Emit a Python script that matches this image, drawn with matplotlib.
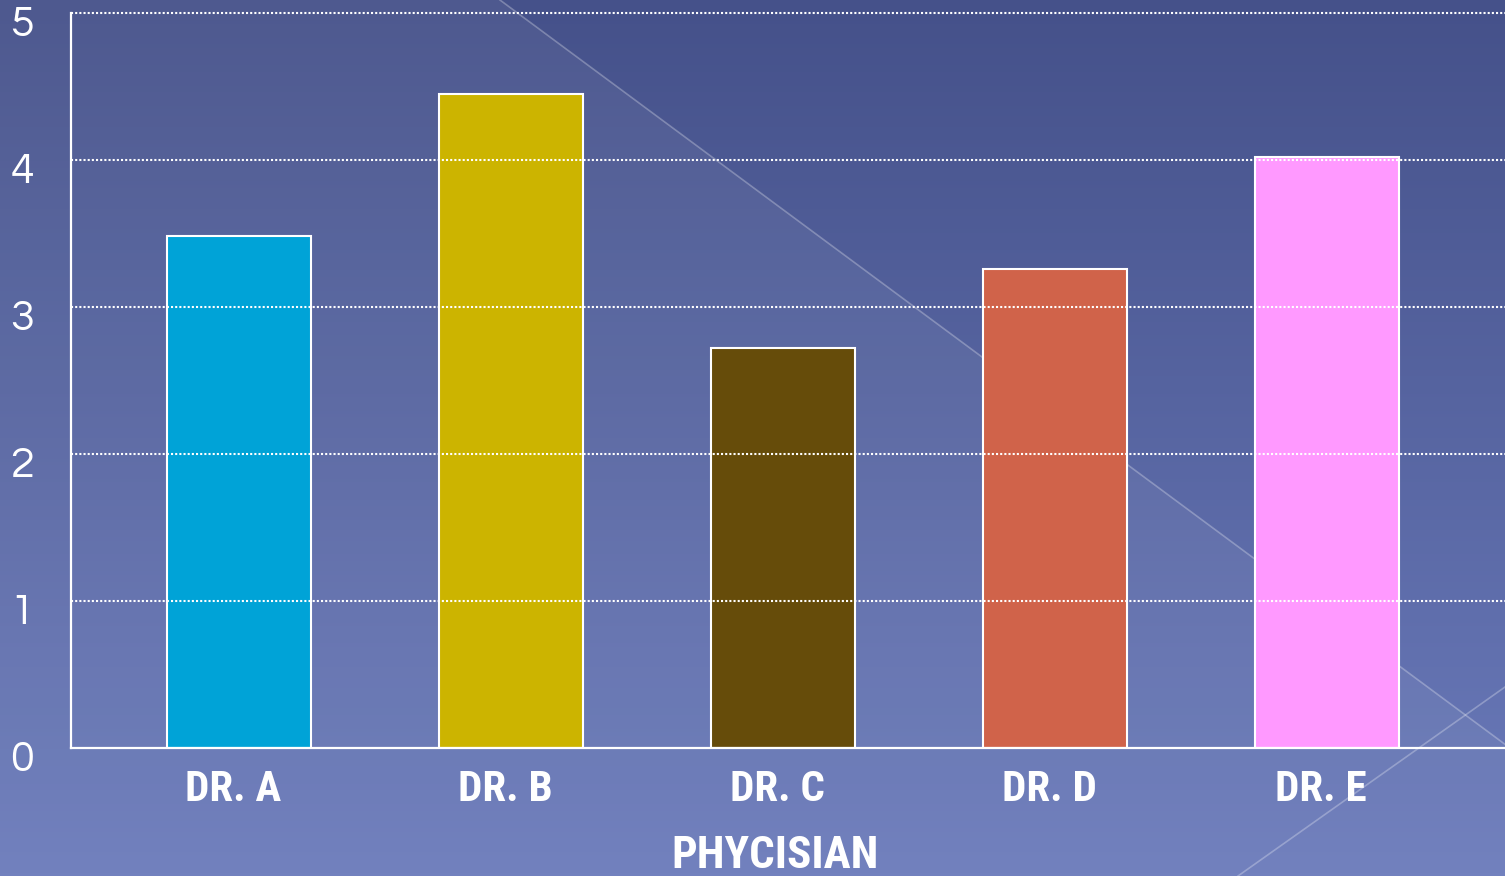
import matplotlib
matplotlib.use("Agg")
import matplotlib.pyplot as plt
import numpy as np
from matplotlib.colors import to_rgb
from matplotlib.transforms import ScaledTranslation

# ---- data ----
physicians = ["DR. A", "DR. B", "DR. C", "DR. D", "DR. E"]
scores = [3.48, 4.45, 2.72, 3.26, 4.02]
bar_colors = ["#00A3D7", "#CCB400", "#664C0A", "#D0634A", "#FF99FF"]
y_ticks = [0, 1, 2, 3, 4, 5]
x_title = "PHYCISIAN"

W, H = 1505, 876
NARROW = ["Roboto Condensed", "DejaVu Sans"]
GOTHIC = ["Questrial", "DejaVu Sans"]

fig = plt.figure(figsize=(W / 100, H / 100), dpi=100)

# background: vertical gradient + lighter wedge left of the diagonal
bg = fig.add_axes([0, 0, 1, 1])
bg.set_xlim(0, W); bg.set_ylim(H, 0); bg.axis("off")
top, bot = np.array(to_rgb("#45518a")), np.array(to_rgb("#6b7bbb"))
t = np.linspace(0, 1, 256)[:, None, None]
grad = top + (bot - top) * t
bg.imshow(np.repeat(grad, 4, axis=1), extent=[0, W, H, 0], aspect="auto", zorder=0)
bg.fill([0, 500, 1510, 1510, 0], [0, 0, 748, H, H], color="white", alpha=0.05, lw=0, zorder=1)
bg.plot([500, 1510], [0, 748], color="white", alpha=0.28, lw=1.2, zorder=2)
bg.plot([1238, 1505], [876, 687], color="white", alpha=0.28, lw=1.2, zorder=2)

ax = fig.add_axes([71 / W, 1 - 748 / H, 1 - 71 / W, (748 - 13) / H])
ax.patch.set_alpha(0)
x = np.arange(len(physicians))
ax.bar(x, scores, width=0.53, color=bar_colors, edgecolor="white", linewidth=1.5, zorder=2)
for v in y_ticks[1:]:
    ax.axhline(v, color="white", lw=1.5, ls=(0, (1, 1)), zorder=3, clip_on=False)

ax.set_xlim(-0.618, 4.654)
ax.set_ylim(0, 5)
ax.set_yticks(y_ticks)
ax.set_yticklabels([str(v) for v in y_ticks], fontsize=31, color="white", family=GOTHIC)
ax.set_xticks(x)
ax.set_xticklabels(physicians, fontsize=31, color="white", family=NARROW, fontweight="bold")
ax.tick_params(axis="y", length=0, pad=35)
ax.tick_params(axis="x", length=0, pad=15)

shift_y = ScaledTranslation(0, -8 / 100, fig.dpi_scale_trans)
for lab in ax.get_yticklabels():
    lab.set_horizontalalignment("center")
    lab.set_transform(lab.get_transform() + shift_y)
shift_x = ScaledTranslation(-6 / 100, 0, fig.dpi_scale_trans)
for lab in ax.get_xticklabels():
    lab.set_transform(lab.get_transform() + shift_x)

for s in ["top", "right"]:
    ax.spines[s].set_visible(False)
for s in ["left", "bottom"]:
    ax.spines[s].set_color("white")
    ax.spines[s].set_linewidth(1.6)
    ax.spines[s].set_zorder(4)

fig.text(775 / W, 1 - 868 / H, x_title, ha="center", va="baseline", fontsize=32.5,
         color="white", family=NARROW, fontweight="bold")

fig.savefig("out.png", dpi=100)
